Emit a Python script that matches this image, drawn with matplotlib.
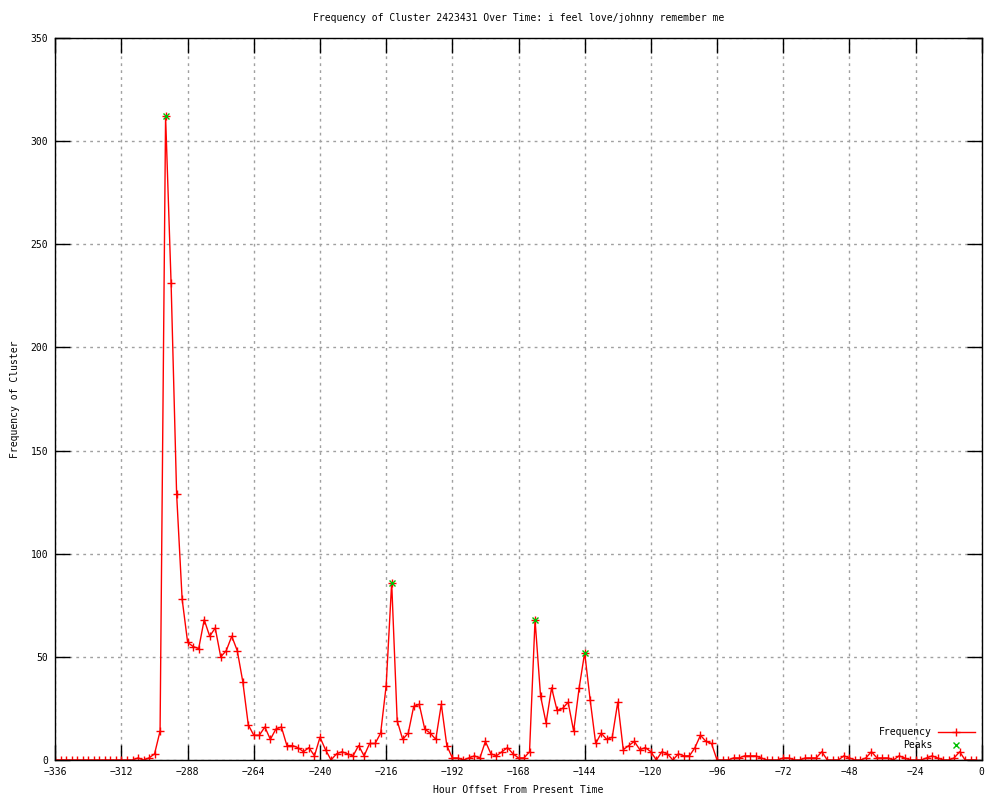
"""
Frequency of cluster over time (gnuplot-style recreation)
"""
import matplotlib
matplotlib.use('Agg')
import matplotlib.pyplot as plt
import numpy as np

# Hour offsets, one sample every 2 hours from -336 to -2
hours = list(range(-336, 0, 2))

frequency = [
    0, 0, 0, 0, 0, 0, 0, 0, 0, 0, 0, 0, 0, 0, 0, 1, 0, 1, 3, 14,
    312, 231, 129, 78, 57, 55, 54, 68, 60, 64, 50, 53, 60, 53, 38, 17, 12, 12, 16, 10,
    15, 16, 7, 7, 6, 4, 6, 2, 11, 5, 0, 3, 4, 3, 2, 7, 2, 8, 8, 13,
    36, 86, 19, 10, 13, 26, 27, 15, 13, 10, 27, 7, 1, 1, 0, 1, 2, 1, 9, 3,
    2, 4, 6, 3, 1, 1, 4, 68, 31, 18, 35, 24, 25, 28, 14, 35, 52, 29, 8, 13,
    10, 11, 28, 5, 7, 9, 5, 6, 4, 0, 4, 3, 0, 3, 2, 2, 6, 12, 9, 8,
    0, 0, 0, 1, 1, 2, 2, 2, 1, 0, 0, 0, 1, 1, 0, 0, 1, 1, 1, 4,
    0, 0, 0, 2, 1, 0, 0, 1, 4, 1, 1, 1, 0, 2, 1, 0, 0, 0, 1, 2,
    1, 0, 0, 1, 4, 0, 0, 0,
]

peak_hours = [-296, -214, -162, -144]
peak_values = [312, 86, 68, 52]

x_ticks = list(range(-336, 1, 24))
y_ticks = list(range(0, 351, 50))

plt.rcParams['font.family'] = ['DejaVu Sans Mono']
plt.rcParams['font.size'] = 7

fig = plt.figure(figsize=(10, 8), dpi=100, facecolor='white')
ax = fig.add_axes([0.0553, 0.05, 0.9264, 0.9025])

# Grid (gray dotted)
ax.grid(True, color='#a0a0a0', linestyle=(0, (2, 3)), linewidth=1)
ax.set_axisbelow(True)

ax.plot(hours, frequency, color='#ff0000', linewidth=1, marker='+',
        markersize=6, markeredgewidth=1, label='Frequency')
ax.plot(peak_hours, peak_values, linestyle='none', color='#00c000', marker='x',
        markersize=5, markeredgewidth=1, label='Peaks')

ax.set_xlim(-336, 0)
ax.set_ylim(0, 350)
ax.set_xticks(x_ticks)
ax.set_yticks(y_ticks)

ax.tick_params(direction='in', length=10.5, width=1, color='black',
               top=True, right=True, labelsize=7, pad=5)
for s in ax.spines.values():
    s.set_linewidth(1)
    s.set_color('black')

ax.set_title('Frequency of Cluster 2423431 Over Time: i feel love/johnny remember me',
             fontsize=7, pad=12)
ax.set_xlabel('Hour Offset From Present Time', fontsize=7, labelpad=6)
ax.set_ylabel('Frequency of Cluster', fontsize=7, labelpad=8)

ax.legend(loc='lower right', bbox_to_anchor=(1.0, 0.004), frameon=False,
          markerfirst=False, handlelength=3.8, handletextpad=0.6,
          borderaxespad=0.3, labelspacing=0.35, fontsize=7)

plt.savefig('out.png', dpi=100, facecolor='white')
plt.close(fig)
